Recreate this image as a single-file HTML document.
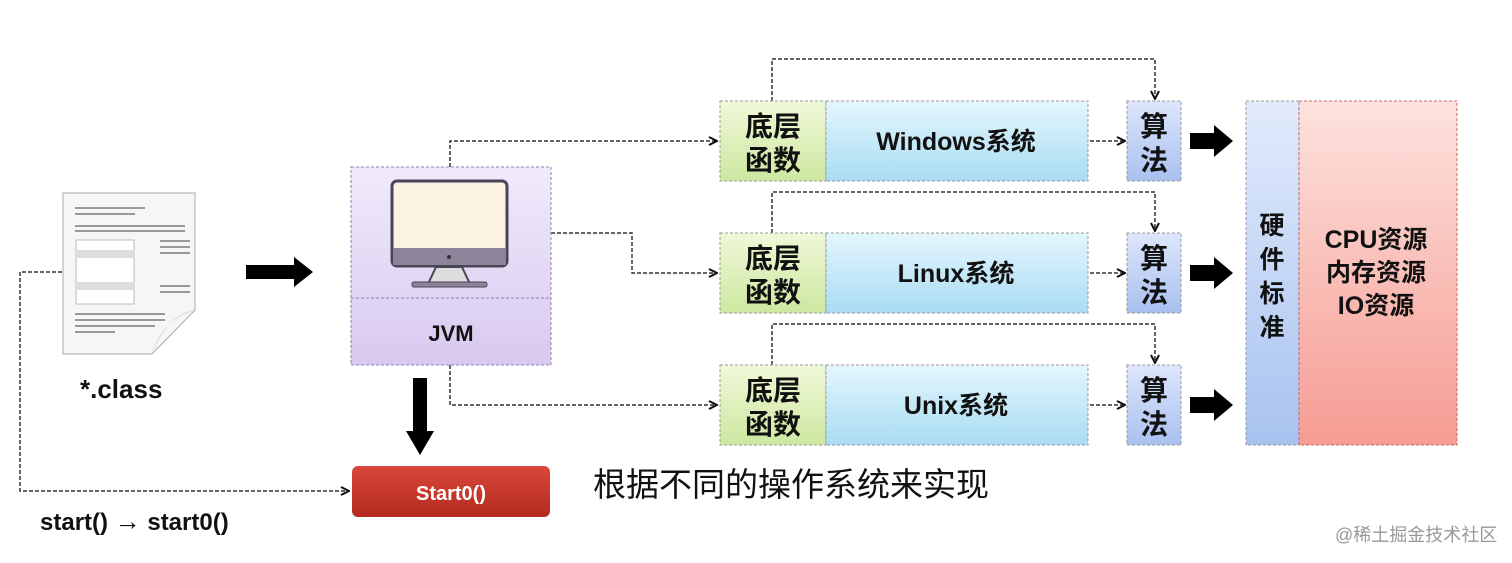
<!DOCTYPE html>
<html><head><meta charset="utf-8"><style>
html,body{margin:0;padding:0;background:#fff;}
svg{display:block;}
text{font-family:"Liberation Sans","Noto Sans CJK SC",sans-serif;font-weight:bold;fill:#111;}
</style></head><body>
<svg width="1512" height="563" viewBox="0 0 1512 563" xmlns="http://www.w3.org/2000/svg">
<defs>
<linearGradient id="g" x1="0" y1="0" x2="0" y2="1"><stop offset="0" stop-color="#f0f8d8"/><stop offset="1" stop-color="#cde8a0"/></linearGradient>
<linearGradient id="b" x1="0" y1="0" x2="0" y2="1"><stop offset="0" stop-color="#e4f6fd"/><stop offset="1" stop-color="#a9dcf3"/></linearGradient>
<linearGradient id="a" x1="0" y1="0" x2="0" y2="1"><stop offset="0" stop-color="#dde6fb"/><stop offset="1" stop-color="#a9c0ef"/></linearGradient>
<linearGradient id="hw" x1="0" y1="0" x2="0" y2="1"><stop offset="0" stop-color="#e2ebfc"/><stop offset="1" stop-color="#a8c2ef"/></linearGradient>
<linearGradient id="r" x1="0" y1="0" x2="0" y2="1"><stop offset="0" stop-color="#fde2de"/><stop offset="1" stop-color="#f69c93"/></linearGradient>
<linearGradient id="p" x1="0" y1="0" x2="0" y2="1"><stop offset="0" stop-color="#f0ebfb"/><stop offset="1" stop-color="#d8c9f0"/></linearGradient>
<linearGradient id="rd" x1="0" y1="0" x2="0" y2="1"><stop offset="0" stop-color="#d9483a"/><stop offset="1" stop-color="#b52a20"/></linearGradient>
<marker id="m" markerWidth="10" markerHeight="10" refX="9" refY="5" orient="auto" markerUnits="userSpaceOnUse"><path d="M1,1 L9,5 L1,9" fill="none" stroke="#111" stroke-width="2"/></marker>
</defs>
<g fill="none" stroke="#333" stroke-width="1.5" stroke-dasharray="4,2">
<path d="M450 167 V141 H717" marker-end="url(#m)"/>
<path d="M551 233 H632 V273 H717" marker-end="url(#m)"/>
<path d="M450 365 V405 H717" marker-end="url(#m)"/>
<path d="M772 101 V59 H1155 V99" marker-end="url(#m)"/>
<path d="M772 233 V192 H1155 V231" marker-end="url(#m)"/>
<path d="M772 365 V324 H1155 V363" marker-end="url(#m)"/>
<path d="M1090 141 H1125" marker-end="url(#m)"/>
<path d="M1090 273 H1125" marker-end="url(#m)"/>
<path d="M1090 405 H1125" marker-end="url(#m)"/>
<path d="M62 272 H20 V491 H349" marker-end="url(#m)"/>
</g>
<path d="M63 193 H195 V310 L152 354 H63 Z" fill="#f6f6f6" stroke="#aaa"/>
<path d="M152 354 Q160 322 195 310 Q170 312 152 354Z" fill="#ddd"/>
<g fill="#999"><rect x="75" y="207" width="70" height="2"/><rect x="75" y="213" width="60" height="2"/><rect x="75" y="225" width="110" height="2"/><rect x="75" y="230" width="110" height="2"/><rect x="160" y="240" width="30" height="2"/><rect x="160" y="246" width="30" height="2"/><rect x="160" y="252" width="30" height="2"/><rect x="160" y="285" width="30" height="2"/><rect x="160" y="291" width="30" height="2"/><rect x="75" y="313" width="90" height="2"/><rect x="75" y="319" width="90" height="2"/><rect x="75" y="325" width="80" height="2"/><rect x="75" y="331" width="40" height="2"/></g>
<rect x="76" y="240" width="58" height="64" fill="#fff" stroke="#bbb"/>
<rect x="76" y="250" width="58" height="8" fill="#ddd"/><rect x="76" y="282" width="58" height="8" fill="#ddd"/>
<text x="80" y="398" font-size="26">*.class</text>
<path d="M246 265 H294 V257 L313 272 L294 287 V279 H246Z" fill="#000"/>
<path d="M413 378 H427 V431 H434 L420 455 L406 431 H413Z" fill="#000"/>
<g fill="#000">
<path d="M1190 133 H1214 V125 L1233 141 L1214 157 V149 H1190Z"/>
<path d="M1190 265 H1214 V257 L1233 273 L1214 289 V281 H1190Z"/>
<path d="M1190 397 H1214 V389 L1233 405 L1214 421 V413 H1190Z"/>
</g>
<rect x="351" y="167" width="200" height="198" fill="url(#p)" stroke="#8f80b0" stroke-dasharray="3,2"/>
<line x1="351" y1="298" x2="551" y2="298" stroke="#8f80b0" stroke-dasharray="3,2"/>
<rect x="392" y="181" width="115" height="85" rx="5" fill="#fdf3e3" stroke="#4a4458" stroke-width="3"/>
<rect x="393" y="248" width="113" height="17" fill="#8c8498"/>
<circle cx="449" cy="257" r="2" fill="#333"/>
<path d="M436 267 L428 284 H470 L462 267Z" fill="#ddd" stroke="#4a4458" stroke-width="2"/>
<rect x="412" y="282" width="75" height="5" rx="2" fill="#8c8498" stroke="#4a4458"/>
<text x="451" y="341" font-size="22" text-anchor="middle">JVM</text>
<rect x="352" y="466" width="198" height="51" rx="6" fill="url(#rd)"/>
<text x="451" y="500" font-size="20" text-anchor="middle" style="fill:#fff">Start0()</text>
<text x="40" y="530" font-size="24">start() <tspan font-size="26">→</tspan> start0()</text>
<text x="593" y="496" font-size="33" style="font-weight:normal">根据不同的操作系统来实现</text>
<g stroke="#999" stroke-dasharray="3,2">
<rect x="720" y="101" width="106" height="80" fill="url(#g)"/><rect x="826" y="101" width="262" height="80" fill="url(#b)"/>
<rect x="720" y="233" width="106" height="80" fill="url(#g)"/><rect x="826" y="233" width="262" height="80" fill="url(#b)"/>
<rect x="720" y="365" width="106" height="80" fill="url(#g)"/><rect x="826" y="365" width="262" height="80" fill="url(#b)"/>
<rect x="1127" y="101" width="54" height="80" fill="url(#a)"/>
<rect x="1127" y="233" width="54" height="80" fill="url(#a)"/>
<rect x="1127" y="365" width="54" height="80" fill="url(#a)"/>
<rect x="1246" y="101" width="53" height="344" fill="url(#hw)"/>
<rect x="1299" y="101" width="158" height="344" fill="url(#r)" stroke="#c66"/>
</g>
<g font-size="28" text-anchor="middle">
<text x="773" y="136">底层</text><text x="773" y="170">函数</text>
<text x="773" y="268">底层</text><text x="773" y="302">函数</text>
<text x="773" y="400">底层</text><text x="773" y="434">函数</text>
<text x="1154" y="136">算</text><text x="1154" y="170">法</text>
<text x="1154" y="268">算</text><text x="1154" y="302">法</text>
<text x="1154" y="400">算</text><text x="1154" y="434">法</text>
</g>
<g font-size="25" text-anchor="middle">
<text x="956" y="150">Windows系统</text>
<text x="956" y="282">Linux系统</text>
<text x="956" y="414">Unix系统</text>
</g>
<g font-size="25" text-anchor="middle">
<text x="1272" y="234">硬</text><text x="1272" y="268">件</text><text x="1272" y="302">标</text><text x="1272" y="336">准</text>
<text x="1376" y="248">CPU资源</text><text x="1376" y="281">内存资源</text><text x="1376" y="314">IO资源</text>
</g>
<text x="1335" y="541" font-size="18" style="font-weight:normal;fill:#999">@稀土掘金技术社区</text>
</svg>
</body></html>
